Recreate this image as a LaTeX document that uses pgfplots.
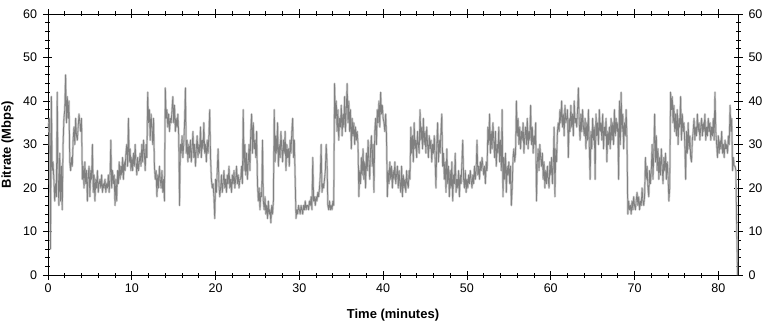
\documentclass[border=0pt]{standalone}
\usepackage{pgfplots}
\pgfplotsset{compat=1.18}
\usepackage{pgfplotstable}
\usepackage{fontspec}
\setmainfont{Liberation Sans}
\definecolor{dk}{RGB}{128,128,128}
\definecolor{lt}{RGB}{205,205,205}
% bitrate sampled every 0.1 minute (one row of 10 values per minute)
\pgfplotstableread[row sep=\\]{y\\
35\\33\\36\\6\\41\\24\\26\\22\\17\\21\\
18\\42\\22\\16\\28\\17\\25\\15\\30\\36\\
38\\46\\35\\41\\36\\40\\26\\24\\27\\25\\
31\\34\\30\\36\\32\\31\\34\\37\\35\\33\\
36\\22\\25\\20\\26\\21\\24\\17\\23\\25\\
18\\24\\22\\30\\19\\23\\17\\22\\20\\24\\
19\\21\\22\\20\\23\\19\\21\\20\\22\\19\\
21\\20\\23\\19\\22\\31\\20\\24\\21\\23\\
16\\22\\17\\24\\21\\26\\22\\25\\23\\27\\
22\\26\\24\\28\\30\\25\\36\\26\\29\\24\\
27\\24\\28\\25\\30\\26\\23\\27\\24\\26\\
28\\25\\30\\26\\31\\28\\24\\30\\27\\42\\
35\\38\\31\\37\\34\\30\\36\\25\\22\\24\\
18\\23\\20\\25\\22\\20\\24\\19\\22\\17\\
43\\36\\38\\34\\37\\33\\36\\35\\38\\41\\
35\\39\\33\\36\\34\\37\\32\\16\\30\\28\\
32\\27\\30\\35\\43\\28\\31\\26\\30\\27\\
31\\26\\29\\33\\27\\30\\25\\29\\32\\27\\
30\\28\\34\\27\\31\\29\\35\\28\\30\\26\\
31\\28\\32\\38\\27\\22\\20\\21\\18\\13\\
22\\19\\24\\29\\21\\18\\20\\23\\19\\21\\
24\\20\\22\\19\\23\\21\\25\\20\\22\\19\\
23\\21\\24\\20\\22\\25\\21\\23\\20\\22\\
22\\25\\21\\38\\24\\30\\23\\28\\22\\26\\
30\\24\\33\\37\\28\\35\\29\\31\\27\\33\\
21\\17\\20\\15\\19\\18\\31\\17\\15\\18\\
14\\16\\13\\17\\14\\15\\12\\16\\14\\17\\
38\\26\\32\\28\\35\\25\\30\\27\\33\\29\\
26\\31\\28\\33\\24\\30\\27\\29\\25\\31\\
28\\33\\36\\27\\31\\22\\13\\15\\14\\16\\
15\\14\\16\\15\\14\\16\\15\\17\\15\\16\\
16\\15\\17\\16\\18\\15\\27\\17\\18\\16\\
18\\17\\19\\18\\20\\23\\30\\19\\21\\20\\
22\\24\\30\\26\\16\\15\\17\\15\\16\\15\\
17\\16\\44\\36\\40\\33\\38\\31\\36\\34\\
39\\32\\37\\34\\41\\33\\38\\44\\35\\40\\
33\\38\\29\\36\\32\\35\\30\\34\\31\\33\\
30\\18\\24\\21\\27\\23\\29\\22\\26\\20\\
28\\24\\31\\26\\22\\29\\32\\25\\30\\19\\
33\\36\\30\\38\\35\\40\\34\\42\\37\\39\\
36\\35\\33\\37\\32\\18\\24\\21\\26\\22\\
25\\20\\24\\22\\26\\21\\23\\25\\20\\24\\
21\\19\\25\\18\\23\\20\\22\\19\\24\\21\\
20\\24\\22\\34\\28\\32\\26\\35\\29\\31\\
27\\33\\30\\28\\38\\31\\34\\29\\36\\30\\
33\\28\\34\\30\\27\\32\\29\\31\\26\\30\\
28\\32\\27\\20\\30\\35\\26\\31\\28\\33\\
37\\25\\28\\22\\26\\19\\29\\21\\25\\18\\
24\\20\\26\\17\\23\\21\\28\\19\\22\\20\\
24\\18\\23\\21\\26\\31\\22\\20\\24\\19\\
22\\20\\23\\21\\24\\22\\20\\23\\21\\25\\
22\\24\\31\\23\\25\\22\\26\\24\\27\\25\\
23\\25\\21\\26\\24\\34\\30\\37\\28\\33\\
29\\35\\31\\27\\33\\25\\30\\28\\34\\26\\
31\\24\\38\\18\\27\\22\\28\\19\\25\\23\\
26\\21\\25\\16\\20\\27\\29\\26\\28\\40\\
32\\36\\30\\34\\29\\33\\31\\35\\28\\32\\
34\\30\\36\\29\\33\\31\\39\\30\\34\\28\\
32\\30\\35\\17\\26\\29\\24\\30\\27\\25\\
28\\22\\26\\20\\24\\21\\25\\22\\20\\26\\
23\\27\\21\\25\\34\\18\\29\\26\\33\\35\\
33\\38\\35\\40\\34\\37\\32\\39\\35\\36\\
38\\27\\36\\33\\39\\34\\37\\32\\40\\35\\
36\\34\\38\\43\\35\\31\\37\\33\\38\\34\\
32\\36\\29\\35\\31\\38\\30\\22\\33\\29\\
36\\31\\34\\22\\37\\32\\35\\30\\38\\33\\
35\\31\\37\\29\\34\\32\\36\\26\\33\\30\\
34\\29\\36\\31\\35\\30\\38\\32\\36\\33\\
35\\22\\40\\30\\42\\33\\37\\29\\35\\32\\
38\\31\\14\\17\\15\\16\\14\\17\\15\\18\\
16\\15\\17\\19\\16\\18\\15\\17\\16\\20\\
17\\16\\18\\27\\22\\25\\20\\18\\24\\21\\
24\\30\\22\\28\\37\\26\\32\\24\\29\\22\\
27\\23\\29\\25\\21\\27\\24\\28\\22\\26\\
23\\17\\20\\42\\38\\41\\35\\39\\33\\37\\
32\\38\\30\\36\\34\\41\\31\\37\\33\\35\\
30\\22\\33\\28\\35\\29\\32\\27\\26\\31\\
33\\36\\31\\34\\32\\37\\33\\35\\31\\34\\
36\\32\\35\\33\\37\\31\\34\\32\\36\\33\\
35\\31\\34\\32\\36\\31\\42\\33\\30\\27\\
32\\28\\31\\29\\33\\28\\30\\27\\31\\29\\
30\\28\\32\\30\\39\\33\\36\\24\\27\\25\\
25\\24\\10\\0\\
}\bitrate
\begin{document}
\begin{tikzpicture}
\begin{axis}[
  scale only axis, width=690bp, height=261bp,
  xmin=0, xmax=82.35, ymin=0, ymax=60,
  xtick={0,10,...,80}, minor x tick num=4,
  ytick={0,10,...,60}, minor y tick num=4,
  tick align=center, major tick length=9bp, minor tick length=5bp,
  xtick pos=both, ytick pos=both, xticklabel pos=lower, yticklabel pos=left,
  axis line style={line width=0.8bp},
  every tick/.style={black, line width=0.8bp},
  /pgf/number format/assume math mode=true,
  ticklabel style={font=\fontsize{12.5bp}{14bp}\selectfont},
  xticklabel style={yshift=-1bp},
  yticklabel style={xshift=-3bp},
  xlabel={Time (minutes)}, ylabel={Bitrate (Mbps)},
  label style={font=\bfseries\fontsize{13bp}{15bp}\selectfont},
  xlabel style={at={([yshift=-40bp]axis description cs:0.5,0)}, anchor=center},
  ylabel style={at={([xshift=-40.5bp]axis description cs:0,0.5)}, anchor=center},
  clip=true,
]
\addplot[lt, line width=2.2bp, line join=round] table[x expr=\coordindex*0.1, y=y] {\bitrate};
\addplot[dk, line width=0.8bp, line join=round] table[x expr=\coordindex*0.1, y=y] {\bitrate};
\coordinate (ll) at (axis cs:0,0);
\coordinate (ur) at (axis cs:82.35,60);
\end{axis}
\begin{axis}[
  scale only axis, width=690bp, height=261bp,
  xmin=0, xmax=82.35, ymin=0, ymax=60,
  xtick=\empty, ytick={0,10,...,60},
  ytick pos=right, yticklabel pos=right,
  major tick length=0pt, axis line style={draw=none},
  /pgf/number format/assume math mode=true,
  ticklabel style={font=\fontsize{12.5bp}{14bp}\selectfont},
  yticklabel style={xshift=7bp},
]
\end{axis}
\pgfresetboundingbox
\path[use as bounding box] ([xshift=-48bp,yshift=-51bp]ll) rectangle ([xshift=29bp,yshift=14bp]ur);
\end{tikzpicture}
\end{document}
